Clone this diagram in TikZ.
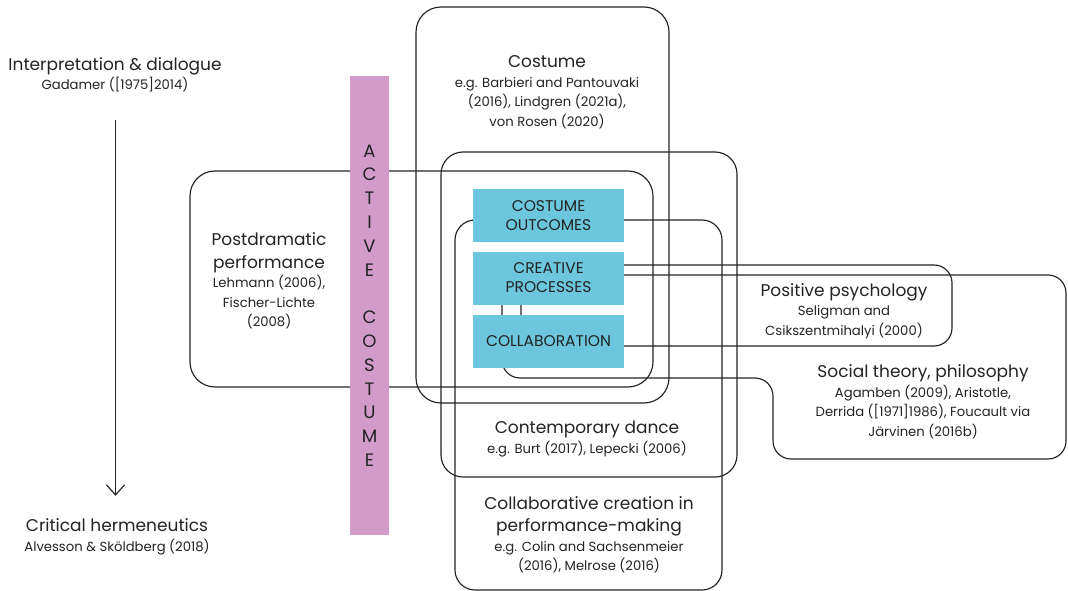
\documentclass[tikz,border=0pt]{standalone}
\usepackage{fontspec}
\setmainfont{Poppins}
\usetikzlibrary{arrows.meta}
\definecolor{ink}{HTML}{232323}
\definecolor{cyanbox}{HTML}{6CC6DE}
\definecolor{pinkbar}{HTML}{D29BCA}
\newcommand\headfont{\fontsize{17}{19.5}\selectfont}
\newcommand\reffont{\fontsize{13.2}{19.5}\selectfont}
\newcommand\corefont{\fontsize{15.5}{19}\selectfont}
\newcommand\barfont{\fontsize{18}{23.8}\selectfont}

\begin{document}
\begin{tikzpicture}[x=1pt,y=-1pt,
  region/.style={draw=ink, line width=1.15pt, rounded corners=#1},
  region/.default=22pt,
  txt/.style={align=center, text=ink, font=\reffont, inner sep=0pt},
  core/.style={fill=cyanbox, minimum width=151pt, minimum height=53pt,
    inner sep=0pt, align=center, text=ink, font=\corefont},
  bar/.style={fill=pinkbar, minimum width=39pt, minimum height=459pt,
    inner sep=0pt, align=center, text=ink, font=\barfont},
  flow/.style={draw=ink, line width=1.15pt, -{Straight Barb[length=10pt,width=18pt]}},
]
\useasboundingbox (0,0) rectangle (1068,591);

% overlapping fields of literature
\draw[region=25pt] (416,7) rectangle (669,403);        % costume
\draw[region=25pt] (190,171) rectangle (653,387);      % postdramatic performance
\draw[region=22pt] (441,152) rectangle (737,477);      % contemporary dance
\draw[region=20pt] (455,220) rectangle (722,590);      % collaborative creation
\draw[region=18pt] (521,265) rectangle (952,346);      % positive psychology
\draw[region=18pt] (502,275) -- (1066,275) -- (1066,459) -- (773,459)
  -- (773,378) -- (502,378) -- cycle;                  % social theory

% the active costume band
\node[bar] (active) at (369.5,305.5)
  {A\\C\\T\\I\\V\\E\\[23.8pt]C\\O\\S\\T\\U\\M\\E};

% core concepts
\node[core] (outcomes) at (548.5,215.5) {COSTUME\\OUTCOMES};
\node[core] (processes) at (548.5,278) {CREATIVE\\PROCESSES};
\node[core] (collab) at (548.5,341.5) {COLLABORATION};

% field labels
\node[txt] (costume) at (547,92)
  {{\headfont Costume}\\e.g. Barbieri and Pantouvaki\\(2016), Lindgren (2021a),\\von Rosen (2020)};
\node[txt] (postdram) at (269,281)
  {{\headfont Postdramatic}\\[3.5pt]{\headfont performance}\\Lehmann (2006),\\Fischer-Lichte\\(2008)};
\node[txt] (positive) at (844,311)
  {{\headfont Positive psychology}\\Seligman and\\Csikszentmihalyi (2000)};
\node[txt] (social) at (923,402)
  {{\headfont Social theory, philosophy}\\Agamben (2009), Aristotle,\\Derrida ([1971]1986), Foucault via\\Järvinen (2016b)};
\node[txt] (dance) at (587,439)
  {{\headfont Contemporary dance}\\e.g. Burt (2017), Lepecki (2006)};
\node[txt] (collabcr) at (589,535)
  {{\headfont Collaborative creation in}\\[2.5pt]{\headfont performance-making}\\e.g. Colin and Sachsenmeier\\(2016), Melrose (2016)};

% methodological axis
\node[txt] (interp) at (115,75)
  {{\headfont Interpretation \& dialogue}\\Gadamer ([1975]2014)};
\node[txt] (critical) at (117,537)
  {{\headfont Critical hermeneutics}\\Alvesson \& Sköldberg (2018)};
\draw[flow, shorten <=27pt, shorten >=23pt]
  (interp.south -| 115.5,0) -- (critical.north -| 115.5,0);
\end{tikzpicture}
\end{document}
